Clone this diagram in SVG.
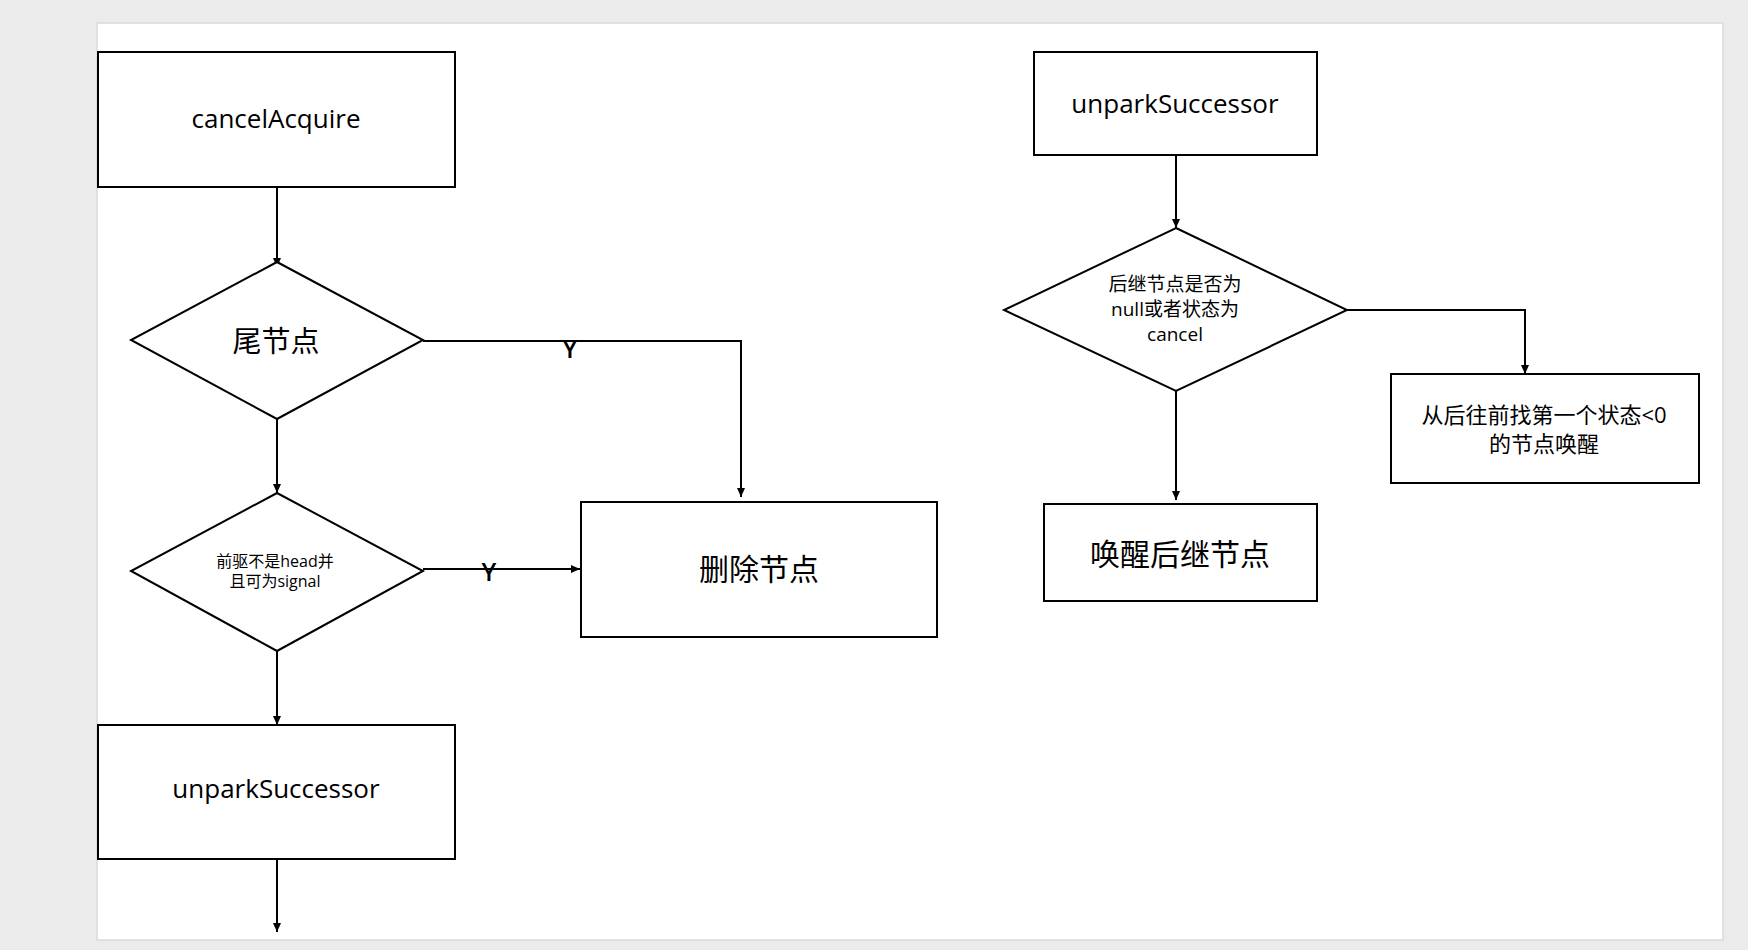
<svg xmlns="http://www.w3.org/2000/svg" width="1748" height="950" viewBox="0 0 1748 950">
<style>
.shape{fill:#ffffff;stroke:#000000;stroke-width:2}
.conn{fill:none;stroke:#000000;stroke-width:2}
.t{font-family:"Open Sans","Noto Sans CJK SC",sans-serif;fill:#000000;text-anchor:middle}
.c{dominant-baseline:central}
.y{font-weight:600}
</style>
<defs>
<marker id="arr" markerUnits="userSpaceOnUse" markerWidth="10" markerHeight="9" refX="9" refY="4" orient="auto">
<path d="M0,0 L9,4 L0,8 z" fill="#000000"/>
</marker>
</defs>
<rect x="0" y="0" width="1748" height="950" fill="#ebebeb"/>
<rect x="97" y="23" width="1626" height="917" fill="#ffffff" stroke="#dadada" stroke-width="1.5"/>

<g id="connectors">
<path class="conn" d="M277,187 V267" marker-end="url(#arr)"/>
<path class="conn" d="M277,419 V493" marker-end="url(#arr)"/>
<path class="conn" d="M423,341 H741 V497" marker-end="url(#arr)"/>
<path class="conn" d="M423,569 H580" marker-end="url(#arr)"/>
<path class="conn" d="M277,651 V725" marker-end="url(#arr)"/>
<path class="conn" d="M277,859 V932" marker-end="url(#arr)"/>
<path class="conn" d="M1176,155 V228" marker-end="url(#arr)"/>
<path class="conn" d="M1347,310 H1525 V374" marker-end="url(#arr)"/>
<path class="conn" d="M1176,390 V500" marker-end="url(#arr)"/>
<text class="t y" x="570" y="358" font-size="25">Y</text>
<text class="t y" x="489" y="581" font-size="25">Y</text>
</g>

<g id="cancelAcquire">
<rect class="shape" x="98" y="52" width="357" height="135"/>
<text class="t" x="276" y="128" font-size="26">cancelAcquire</text>
</g>

<g id="tailNode">
<polygon class="shape" points="277,262 423,340 277,419 131,340"/>
<text class="t c" x="276" y="340" font-size="29">尾节点</text>
</g>

<g id="predNotHead">
<polygon class="shape" points="277,493 423,571 277,651 131,571"/>
<text class="t c" x="275" y="561" font-size="16">前驱不是head并</text>
<text class="t c" x="275" y="581" font-size="16">且可为signal</text>
</g>

<g id="deleteNode">
<rect class="shape" x="581" y="502" width="356" height="135"/>
<text class="t c" x="759" y="568" font-size="30">删除节点</text>
</g>

<g id="unparkSuccessorLeft">
<rect class="shape" x="98" y="725" width="357" height="134"/>
<text class="t" x="276" y="798" font-size="26">unparkSuccessor</text>
</g>

<g id="unparkSuccessorRight">
<rect class="shape" x="1034" y="52" width="283" height="103"/>
<text class="t" x="1175" y="113" font-size="26">unparkSuccessor</text>
</g>

<g id="succCheck">
<polygon class="shape" points="1176,228 1347,310 1176,391 1004,310"/>
<text class="t c" x="1175" y="284" font-size="19">后继节点是否为</text>
<text class="t c" x="1175" y="309" font-size="19">null或者状态为</text>
<text class="t c" x="1175" y="334" font-size="19">cancel</text>
</g>

<g id="findFromTail">
<rect class="shape" x="1391" y="374" width="308" height="109"/>
<text class="t c" x="1544" y="414" font-size="22">从后往前找第一个状态&lt;0</text>
<text class="t c" x="1544" y="443" font-size="22">的节点唤醒</text>
</g>

<g id="wakeSuccessor">
<rect class="shape" x="1044" y="504" width="273" height="97"/>
<text class="t c" x="1180" y="553" font-size="30">唤醒后继节点</text>
</g>
</svg>
